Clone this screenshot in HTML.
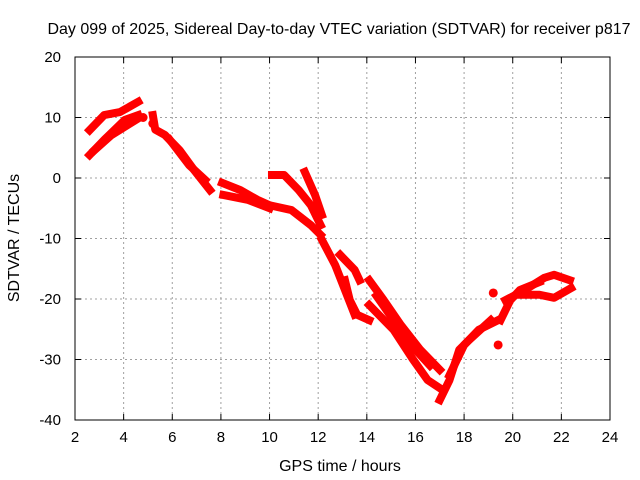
<!DOCTYPE html>
<html><head><meta charset="utf-8"><style>
body{margin:0;background:#fff;}
svg{display:block;font-family:"Liberation Sans",sans-serif;}
</style></head><body>
<svg id="chart" width="640" height="480" viewBox="0 0 640 480">
<text x="339" y="34" font-size="16" text-anchor="middle">Day 099 of 2025, Sidereal Day-to-day VTEC variation (SDTVAR) for receiver p817</text>
<g id="grid"></g>
<g id="ticks"></g>
<g id="series"></g>
<rect x="75" y="57" width="535" height="363" fill="none" stroke="#000" stroke-width="1"/>
<text x="340" y="471" font-size="16" text-anchor="middle">GPS time / hours</text>
<text transform="translate(19,238) rotate(-90)" font-size="16" text-anchor="middle">SDTVAR / TECUs</text>
</svg>
<script>
const xTicks=[2,4,6,8,10,12,14,16,18,20,22,24];
const yTicks=[20,10,0,-10,-20,-30,-40];
const trackA=[[2.6,7.9],[3.2,10.4],[3.85,10.9],[4.6,12.6]];
const trackB=[[2.6,3.8],[3.2,6.3],[4.05,9.6],[4.6,10.4]];
const trackC=[[2.8,4.6],[3.5,7.1],[4.5,9.6]];
const trackD=[[5.2,10.4],[5.3,8],[5.7,7.1],[6.3,4.6],[6.9,1.3],[7.55,-2]];
const trackD2=[[5.9,6.3],[6.7,2.1],[7.35,-0.3]];
const trackE=[[8.05,-0.8],[8.8,-2],[9.5,-3.6],[10,-4.5]];
const trackF=[[8.1,-2.8],[9.1,-3.6],[10,-5]];
const trackG=[[10.1,0.5],[10.6,0.5],[11.2,-2],[11.7,-4.5],[12.1,-7.8]];
const trackH=[[10,-4.5],[10.9,-5.3],[11.7,-7.8],[12.1,-9.4]];
const trackI=[[11.45,1],[11.87,-2.8],[12.15,-6.1]];
const trackJ=[[12.15,-10.2],[12.7,-14.4],[13.1,-18.5],[13.5,-22.6]];
const trackK=[[12.9,-12.7],[13.5,-15.2],[13.7,-16.9]];
const trackL=[[13.1,-16.9],[13.3,-20.2],[13.6,-22.6],[14.1,-23.5]];
const trackM=[[14.1,-16.9],[14.7,-20.2],[15.4,-24.3],[16.2,-28.4],[17,-31.7]];
const trackM2=[[14.4,-19.5],[15.1,-23.5],[15.8,-27.5],[16.6,-31]];
const trackN=[[14.1,-21],[15.1,-25.1],[15.9,-30],[16.5,-33.4],[17.1,-35]];
const trackP=[[17,-36.7],[17.4,-33.4],[17.8,-28.4],[18.2,-26.8],[19.1,-23.5]];
const trackQ=[[17.4,-32.6],[18,-27.6],[18.6,-25.1],[19.4,-23.5]];
const trackR=[[19.5,-23.5],[19.9,-20.2],[20.3,-18.5],[21.1,-17.2]];
const trackS=[[19.7,-20.2],[20.5,-18.5],[21.3,-16.5],[21.7,-16],[22.35,-16.9]];
const trackT=[[20.3,-19.3],[21.1,-19.3],[21.7,-19.8],[22.4,-18.2]];
const blobs=[[19.2,-19],[19.4,-27.6],[4.8,10],[5.2,9]];
const tracks=[trackA,trackB,trackC,trackD,trackD2,trackE,trackF,trackG,trackH,trackI,trackJ,trackK,trackL,trackM,trackM2,trackN,trackP,trackQ,trackR,trackS,trackT];
const NS='http://www.w3.org/2000/svg';
const X0=75,X1=610,Y0=57,Y1=420;
function xs(h){return X0+(h-2)/(24-2)*(X1-X0);}
function ys(v){return Y0+(20-v)/(20+40)*(Y1-Y0);}
function mk(t,a,p){const e=document.createElementNS(NS,t);for(const k in a)e.setAttribute(k,a[k]);p.appendChild(e);return e;}
const grid=document.getElementById('grid'),ticks=document.getElementById('ticks'),ser=document.getElementById('series');
xTicks.forEach(t=>{const x=xs(t);
 if(t>2&&t<24){const g=mk('line',{x1:x,x2:x,y1:Y0,y2:Y1,stroke:'#a0a0a0','stroke-dasharray':'2,3'},grid);}
 const a=mk('line',{x1:x,x2:x,y1:Y1,y2:Y1-6,stroke:'#000'},ticks);
 const b=mk('line',{x1:x,x2:x,y1:Y0,y2:Y0+6,stroke:'#000'},ticks);
 const l=mk('text',{x:x,y:Y1+22,'font-size':15,'text-anchor':'middle'},ticks);l.textContent=t;});
yTicks.forEach(t=>{const y=ys(t);
 if(t<20&&t>-40){const g=mk('line',{x1:X0,x2:X1,y1:y,y2:y,stroke:'#a0a0a0','stroke-dasharray':'2,3'},grid);}
 const a=mk('line',{x1:X0,x2:X0+6,y1:y,y2:y,stroke:'#000'},ticks);
 const b=mk('line',{x1:X1,x2:X1-6,y1:y,y2:y,stroke:'#000'},ticks);
 const l=mk('text',{x:X0-14,y:y+5,'font-size':15,'text-anchor':'end'},ticks);l.textContent=t;});
tracks.forEach(tr=>{const p=mk('polyline',{points:tr.map(d=>xs(d[0])+','+ys(d[1])).join(' '),fill:'none',stroke:'#ff0000','stroke-width':8,'stroke-linejoin':'round','stroke-linecap':'square'},ser);
 
 });
blobs.forEach(d=>{const c=mk('circle',{cx:xs(d[0]),cy:ys(d[1]),r:4.5,fill:'#ff0000'},ser);
 
 });
</script>
</body></html>
